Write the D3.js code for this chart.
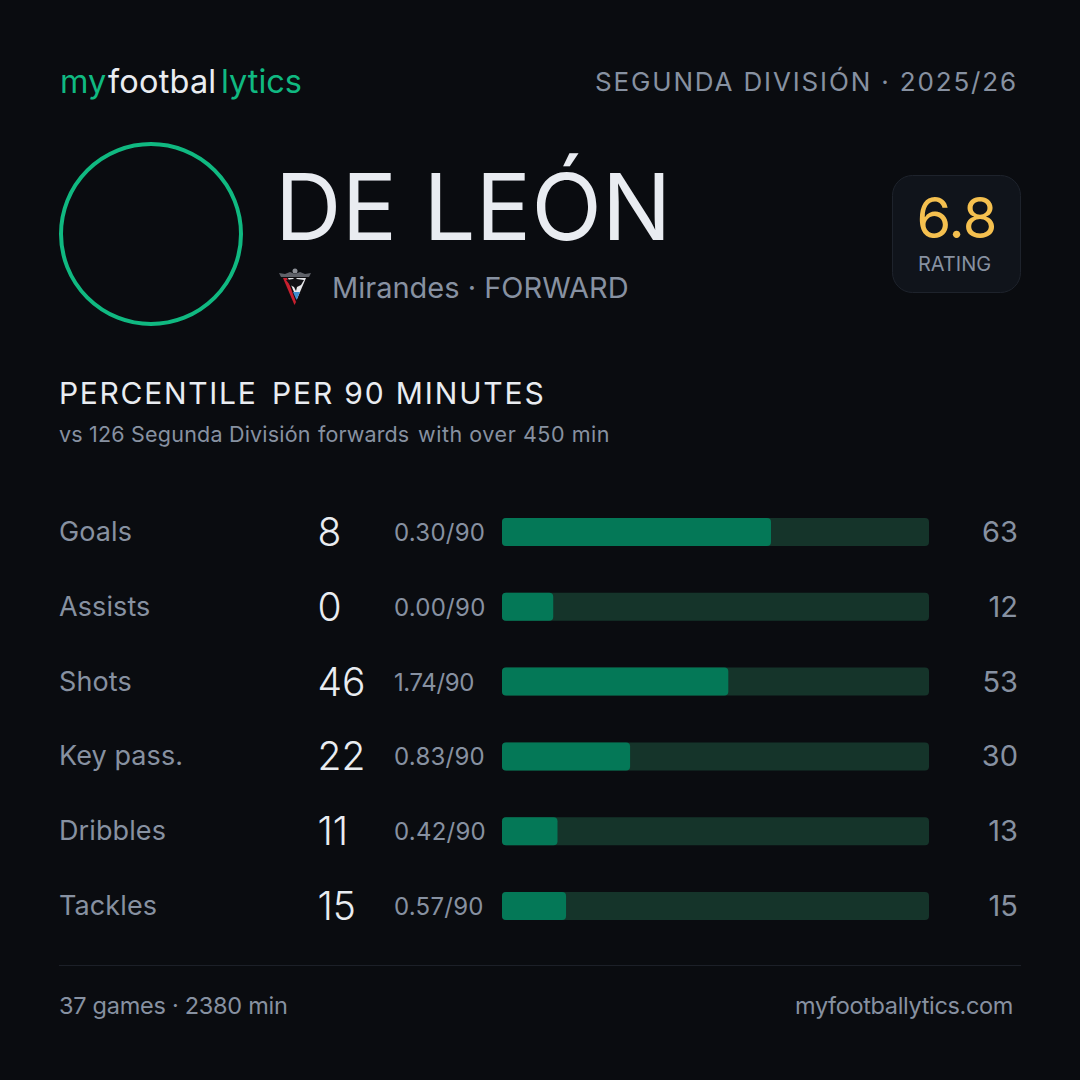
<!DOCTYPE html>
<html>
<head>
<meta charset="utf-8">
<script src="https://cdn.jsdelivr.net/npm/d3@7"></script>
<style>
  html, body { margin: 0; padding: 0; background: #0a0c10; }
  svg { display: block; }
  text { font-family: Inter, "Noto Sans", sans-serif; }
</style>
</head>
<body>
<svg id="card" width="1080" height="1080"></svg>
<script>
var categories = ["Goals", "Assists", "Shots", "Key pass.", "Dribbles", "Tackles"];
var totals = ["8", "0", "46", "22", "11", "15"];
var per90 = ["0.30/90", "0.00/90", "1.74/90", "0.83/90", "0.42/90", "0.57/90"];
var percentiles = [63, 12, 53, 30, 13, 15];

var grey = "#8791a1";
var white = "#e9ecf1";
var green = "#10b981";

var svg = d3.select("#card");

var label = function (x, y, txt, size, fill, opts) {
  opts = opts || {};
  return svg.append("text")
    .attr("x", x)
    .attr("y", y)
    .attr("font-size", size)
    .attr("font-weight", opts.weight || 300)
    .attr("letter-spacing", opts.spacing || 0)
    .attr("text-anchor", opts.anchor || "start")
    .attr("fill", fill)
    .text(txt);
};

//header
label(60, 93, "my", 32.5, green, {spacing: 0.1, weight: 400});
label(108, 93, "footbal", 32.5, white, {spacing: 0.2, weight: 400});
label(221, 93, "lytics", 32.5, green, {spacing: 0, weight: 400});
label(1018, 91, "SEGUNDA DIVISIÓN · 2025/26", 26, grey, {anchor: "end", spacing: 1.85, weight: 400});

//player
svg.append("circle")
  .attr("cx", 151).attr("cy", 234).attr("r", 90)
  .attr("fill", "none").attr("stroke", green).attr("stroke-width", 4);
label(275, 240, "DE LEÓN", 92, white, {spacing: 0.3, weight: 400});
label(332, 298, "Mirandes · FORWARD", 29, grey, {spacing: 0, weight: 400});

//club crest
var crest = svg.append("g").attr("transform", "translate(295,288)");
crest.append("path").attr("d", "M-15,-12 L15,-12 L0,20 Z").attr("fill", "#0d0d10");
crest.append("path").attr("d", "M-12,-10 L-8,-10 L1,14 L-0.5,17 Z").attr("fill", "#c8202f");
crest.append("path").attr("d", "M-7,-10 L11,-10 L2,11 Z").attr("fill", "#e6e7ea");
crest.append("path").attr("d", "M-9,-8 L-2,-9 L0,-11 L2,-9 L9,-8 L6,-3 L2,-1 L1,3 L-1,-1 L-5,-3 Z").attr("fill", "#101014");
crest.append("path").attr("d", "M-2,4 L5,4 L1.5,12 Z").attr("fill", "#3f8fd0");
crest.append("path").attr("d", "M-16,-15 L-10,-14 L-5,-16 L0,-14 L5,-16 L10,-14 L16,-15 L14,-11 L-14,-11 Z").attr("fill", "#5f6269");
crest.append("circle").attr("cx", 0).attr("cy", -17).attr("r", 2.5).attr("fill", "#8c8f96");

//rating box
svg.append("rect")
  .attr("x", 892.5).attr("y", 175.5).attr("width", 128).attr("height", 117).attr("rx", 20)
  .attr("fill", "#10141b").attr("stroke", "#1e232c");
label(956.5, 238, "6.8", 56, "#f5c04f", {anchor: "middle", spacing: -0.8, weight: 400});
label(954.5, 271, "RATING", 20, grey, {anchor: "middle", spacing: 0, weight: 400});

//section title
label(59, 404, "PERCENTILE", 30, white, {spacing: 1.7, weight: 400});
label(272, 404, "PER 90 MINUTES", 30, white, {spacing: 1.85, weight: 400});
label(59, 442, "vs 126 Segunda División", 21.5, grey, {spacing: 0.2, weight: 400});
label(318, 442, "forwards", 21.5, grey, {spacing: 0.1, weight: 400});
label(418, 442, "with over 450 min", 21.5, grey, {spacing: 0.55, weight: 400});

//rows
var rowY = d3.scaleBand().domain(categories).range([494.6, 943.4]);
var barX = d3.scaleLinear().domain([0, 100]).range([502, 929]);
var barHeight = 28;

var rows = svg.selectAll("g.row")
  .data(categories)
  .enter()
  .append("g")
  .attr("class", "row")
  .attr("transform", function (d) {
    return "translate(0," + (rowY(d) + rowY.bandwidth() / 2) + ")";
  });

rows.append("text")
  .attr("x", 59).attr("y", 9)
  .attr("font-size", 27).attr("font-weight", 400).attr("letter-spacing", 0.1).attr("fill", grey)
  .text(function (d) { return d; });

rows.append("text")
  .attr("x", 317.5).attr("y", 14)
  .attr("font-size", 39).attr("font-weight", 300).attr("fill", white)
  .text(function (d, i) { return totals[i]; });

rows.append("text")
  .attr("x", 394).attr("y", 9)
  .attr("font-size", 24).attr("font-weight", 400).attr("letter-spacing", function (d, i) {
    return per90[i].charAt(0) === "1" ? -0.4 : 0.25;
  })
  .attr("fill", grey)
  .text(function (d, i) { return per90[i]; });

rows.append("rect")
  .attr("x", barX(0)).attr("y", -barHeight / 2)
  .attr("width", barX(100) - barX(0)).attr("height", barHeight).attr("rx", 4)
  .attr("fill", "#15342a");

rows.append("rect")
  .attr("x", barX(0)).attr("y", -barHeight / 2)
  .attr("width", function (d, i) { return barX(percentiles[i]) - barX(0); })
  .attr("height", barHeight).attr("rx", 4)
  .attr("fill", "#047857");

rows.append("text")
  .attr("x", 1018).attr("y", 10)
  .attr("text-anchor", "end")
  .attr("font-size", 29).attr("font-weight", 400).attr("fill", grey)
  .text(function (d, i) { return percentiles[i]; });

//footer
svg.append("line")
  .attr("x1", 59).attr("x2", 1021).attr("y1", 965.5).attr("y2", 965.5)
  .attr("stroke", "#1c2028");
label(59, 1014, "37 games · 2380 min", 23.5, grey, {spacing: -0.27, weight: 400});
label(1013, 1014, "myfootballytics.com", 23.5, grey, {anchor: "end", spacing: -0.35, weight: 400});
</script>
</body>
</html>
